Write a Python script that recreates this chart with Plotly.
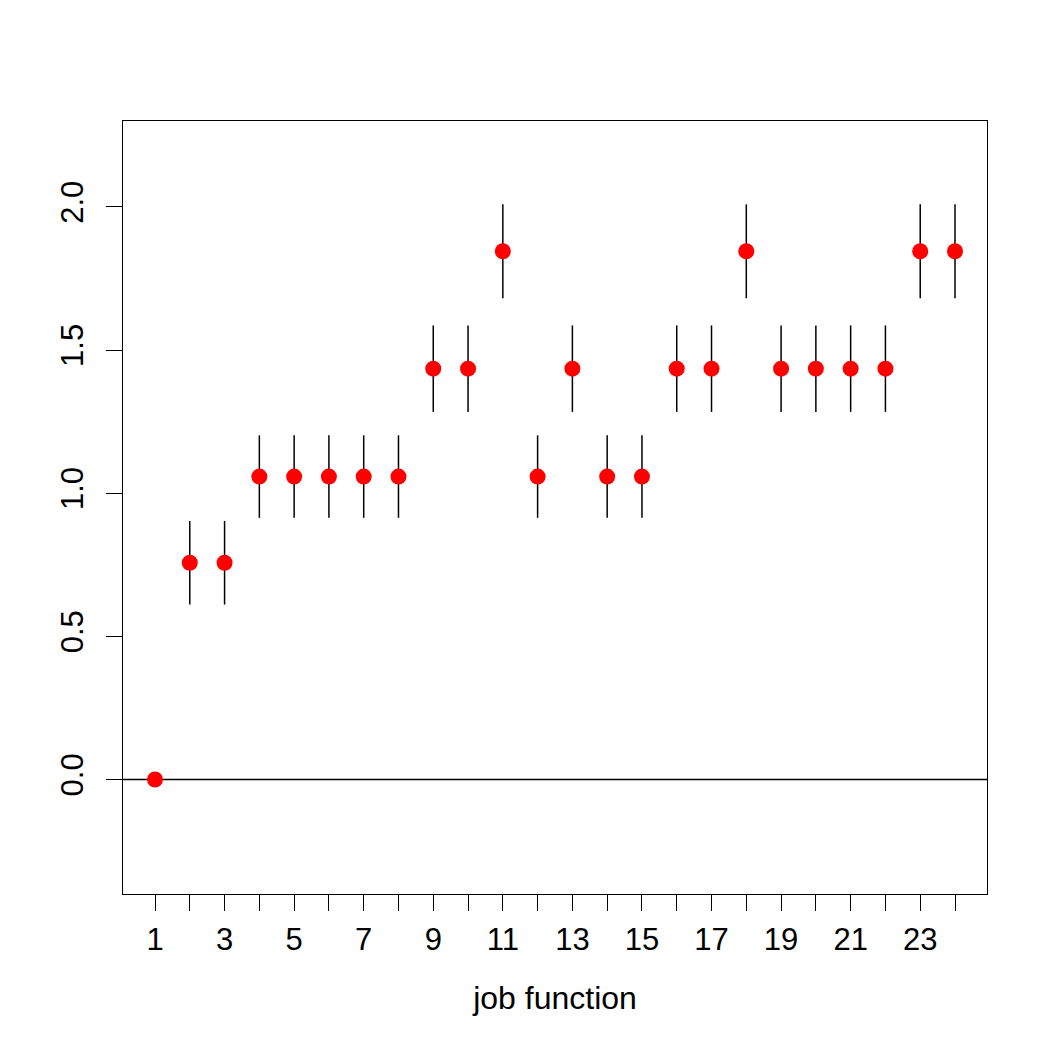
import plotly.graph_objects as go

job = list(range(1, 25))
estimate = [0.0, 0.757, 0.757, 1.058, 1.058, 1.058, 1.058, 1.058, 1.435, 1.435,
            1.845, 1.058, 1.435, 1.058, 1.058, 1.435, 1.435, 1.845, 1.435, 1.435,
            1.435, 1.435, 1.845, 1.845]
halfwidth = [0.0, 0.146, 0.146, 0.144, 0.144, 0.144, 0.144, 0.144, 0.151, 0.151,
             0.164, 0.144, 0.151, 0.144, 0.144, 0.151, 0.151, 0.164, 0.151, 0.151,
             0.151, 0.151, 0.164, 0.164]
x_tickvals = list(range(1, 25))
x_ticktext = [str(v) if v % 2 == 1 else "" for v in x_tickvals]
y_tickvals = [0.0, 0.5, 1.0, 1.5, 2.0]
y_ticktext = ["0.0", "0.5", "1.0", "1.5", "2.0"]

FONT = "Liberation Sans, Arial, Helvetica, sans-serif"

fig = go.Figure()
fig.add_trace(go.Scatter(
    x=job, y=estimate, mode="markers",
    marker=dict(color="red", size=16, line=dict(width=0)),
    error_y=dict(type="data", array=halfwidth, visible=True,
                 color="black", thickness=1.5, width=0),
    showlegend=False,
))

fig.add_shape(type="line", xref="paper", yref="y", x0=0, x1=1, y0=0, y1=0,
              line=dict(color="black", width=1.3), layer="below")

fig.update_layout(
    width=1048, height=1048,
    margin=dict(l=123, r=61, t=121, b=154),
    paper_bgcolor="white", plot_bgcolor="white",
    font=dict(family=FONT, size=31, color="black"),
    xaxis=dict(
        range=[0.08, 24.92], tickmode="array", tickvals=x_tickvals, ticktext=x_ticktext,
        ticks="outside", ticklen=16, tickwidth=1.3, tickcolor="black",
        showline=True, linecolor="black", linewidth=1.3, mirror=True,
        showgrid=False, zeroline=False, ticklabelstandoff=2,
        title=dict(text="job function", font=dict(size=32), standoff=30),
        tickfont=dict(size=31),
    ),
    yaxis=dict(
        range=[-0.4, 2.3], tickmode="array", tickvals=y_tickvals, ticktext=y_ticktext,
        ticks="outside", ticklen=16, tickwidth=1.3, tickcolor="black",
        showline=True, linecolor="black", linewidth=1.3, mirror=True,
        showgrid=False, zeroline=False, tickangle=-90, ticklabelstandoff=10,
        tickfont=dict(size=31),
    ),
)

fig.write_html("out.html")
